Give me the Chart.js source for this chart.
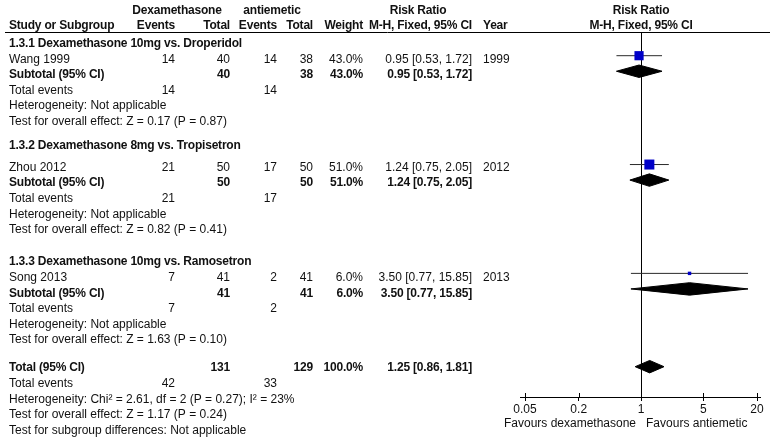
<!DOCTYPE html>
<html>
<head>
<meta charset="utf-8">
<script src="https://cdn.jsdelivr.net/npm/chart.js@4.4.1/dist/chart.umd.min.js"></script>
<style>
html,body{margin:0;padding:0;background:#fff;overflow:hidden}
#wrap{position:relative;width:772px;height:447px}
</style>
</head>
<body>
<div id="wrap"><canvas id="c" width="772" height="447"></canvas></div>
<script>
// ---------------- DATA ----------------
const subgroupTitles = [
  '1.3.1 Dexamethasone 10mg vs. Droperidol',
  '1.3.2 Dexamethasone 8mg vs. Tropisetron',
  '1.3.3 Dexamethasone 10mg vs. Ramosetron'
];
const studyNames = ['Wang 1999', 'Zhou 2012', 'Song 2013'];
const studyYears = ['1999', '2012', '2013'];
const dexEvents = [14, 21, 7];
const dexTotal = [40, 50, 41];
const antiEvents = [14, 17, 2];
const antiTotal = [38, 50, 41];
const weights = [43.0, 51.0, 6.0];
const riskRatio = [0.95, 1.24, 3.50];
const ciLow = [0.53, 0.75, 0.77];
const ciHigh = [1.72, 2.05, 15.85];
const subgroupEffect = ['Z = 0.17 (P = 0.87)', 'Z = 0.82 (P = 0.41)', 'Z = 1.63 (P = 0.10)'];
const totalCounts = [131, 129];          // dexamethasone total, antiemetic total
const totalEvents = [42, 33];            // dexamethasone events, antiemetic events
const totalEstimate = [1.25, 0.86, 1.81]; // RR, low, high
const totalWeight = 100.0;
const totalHeterogeneity = 'Heterogeneity: Chi\u00b2 = 2.61, df = 2 (P = 0.27); I\u00b2 = 23%';
const totalEffect = 'Test for overall effect: Z = 1.17 (P = 0.24)';
const subgroupDiff = 'Test for subgroup differences: Not applicable';
const xTicks = [0.05, 0.2, 1, 5, 20];
const favours = ['Favours dexamethasone', 'Favours antiemetic'];

// ---------------- LAYOUT (row slots) ----------------
const SECTION_ROWS = 7;
const sectionStart = i => i * SECTION_ROWS;
const totalStart = subgroupTitles.length * SECTION_ROWS;
// vertical text nudges (px) per block: [section header, section body]
const sectionTextDy = [[3.5, 3.5], [-3.5, 3], [3.5, 4.5]];
const headerTextDy = 1.5;
const totalTextDy = 1.5;
const DIAMOND_H = 0.4;
const FONT = '"Liberation Sans", Arial, Helvetica, sans-serif';
const TXT = '#111';

const fmt2 = v => v.toFixed(2);
const rrText = (e, l, h) => `${fmt2(e)} [${fmt2(l)}, ${fmt2(h)}]`;
const pct = w => w.toFixed(1) + '%';

// ---------------- DATASETS ----------------
const datasets = [];
studyNames.forEach((n, i) => {
  const r = sectionStart(i) + 1;
  datasets.push({
    type: 'line', data: [{x: ciLow[i], y: r}, {x: ciHigh[i], y: r}],
    borderColor: '#2a2a2a', borderWidth: 1, pointRadius: 0, fill: false, order: 3
  });
});
datasets.push({
  type: 'scatter',
  data: studyNames.map((n, i) => ({x: riskRatio[i], y: sectionStart(i) + 1})),
  pointStyle: 'rect',
  pointRadius: ctx => (1.4 * Math.sqrt(weights[ctx.dataIndex] || 1)) / 1.414,
  backgroundColor: '#0000c8', borderColor: '#0000c8', borderWidth: 0, order: 1
});
function diamond(est, lo, hi, r) {
  return {
    type: 'line',
    data: [{x: lo, y: r}, {x: est, y: r - DIAMOND_H}, {x: hi, y: r}, {x: est, y: r + DIAMOND_H}, {x: lo, y: r}],
    borderColor: '#000', backgroundColor: '#000', borderWidth: 1,
    pointRadius: 0, fill: 'shape', tension: 0, order: 2
  };
}
studyNames.forEach((n, i) => {
  // single-study subgroups: subtotal equals the study estimate
  datasets.push(diamond(riskRatio[i], ciLow[i], ciHigh[i], sectionStart(i) + 2));
});
datasets.push(diamond(totalEstimate[0], totalEstimate[1], totalEstimate[2], totalStart));

// ---------------- TEXT PLUGIN ----------------
const textPlugin = {
  id: 'forestText',
  afterDraw(chart) {
    const {ctx, chartArea, scales: {x, y}} = chart;
    const put = (s, px, r, dy, align, bold) => {
      ctx.font = (bold ? 'bold ' : '') + '12px ' + FONT;
      try { ctx.letterSpacing = bold ? '-0.2px' : '0px'; } catch (e) {}
      ctx.textAlign = align; ctx.textBaseline = 'middle'; ctx.fillStyle = TXT;
      const py = (r === null) ? dy : y.getPixelForValue(r) + dy;
      ctx.fillText(String(s), px, py);
    };
    ctx.save();
    const C = {study: 9, dexE: 175, dexT: 230, antE: 277, antT: 313, w: 363, rr: 472, year: 483};
    const x1 = x.getPixelForValue(1);
    const H = headerTextDy;
    // header
    put('Dexamethasone', 177, -2, H, 'center', true);
    put('antiemetic', 272, -2, H, 'center', true);
    put('Risk Ratio', 418, -2, H, 'center', true);
    put('Risk Ratio', x1, -2, H, 'center', true);
    put('Study or Subgroup', C.study, -1, H, 'left', true);
    put('Events', C.dexE, -1, H, 'right', true);
    put('Total', C.dexT, -1, H, 'right', true);
    put('Events', C.antE, -1, H, 'right', true);
    put('Total', C.antT, -1, H, 'right', true);
    put('Weight', C.w, -1, H, 'right', true);
    put('M-H, Fixed, 95% CI', C.rr, -1, H, 'right', true);
    put('Year', C.year, -1, H, 'left', true);
    put('M-H, Fixed, 95% CI', x1, -1, H, 'center', true);
    // header rule
    ctx.strokeStyle = '#000'; ctx.lineWidth = 1;
    ctx.beginPath(); ctx.moveTo(5, Math.round(chartArea.top) + 0.5); ctx.lineTo(770, Math.round(chartArea.top) + 0.5); ctx.stroke();
    // sections
    subgroupTitles.forEach((t, i) => {
      const s = sectionStart(i);
      const [dh, d] = sectionTextDy[i];
      put(t, C.study, s, dh, 'left', true);
      put(studyNames[i], C.study, s + 1, d, 'left');
      put(dexEvents[i], C.dexE, s + 1, d, 'right');
      put(dexTotal[i], C.dexT, s + 1, d, 'right');
      put(antiEvents[i], C.antE, s + 1, d, 'right');
      put(antiTotal[i], C.antT, s + 1, d, 'right');
      put(pct(weights[i]), C.w, s + 1, d, 'right');
      put(rrText(riskRatio[i], ciLow[i], ciHigh[i]), C.rr, s + 1, d, 'right');
      put(studyYears[i], C.year, s + 1, d, 'left');
      put('Subtotal (95% CI)', C.study, s + 2, d, 'left', true);
      put(dexTotal[i], C.dexT, s + 2, d, 'right', true);
      put(antiTotal[i], C.antT, s + 2, d, 'right', true);
      put(pct(weights[i]), C.w, s + 2, d, 'right', true);
      put(rrText(riskRatio[i], ciLow[i], ciHigh[i]), C.rr, s + 2, d, 'right', true);
      put('Total events', C.study, s + 3, d, 'left');
      put(dexEvents[i], C.dexE, s + 3, d, 'right');
      put(antiEvents[i], C.antE, s + 3, d, 'right');
      put('Heterogeneity: Not applicable', C.study, s + 4, d, 'left');
      put('Test for overall effect: ' + subgroupEffect[i], C.study, s + 5, d, 'left');
    });
    const t = totalStart, T = totalTextDy;
    put('Total (95% CI)', C.study, t, T, 'left', true);
    put(totalCounts[0], C.dexT, t, T, 'right', true);
    put(totalCounts[1], C.antT, t, T, 'right', true);
    put(pct(totalWeight), C.w, t, T, 'right', true);
    put(rrText(totalEstimate[0], totalEstimate[1], totalEstimate[2]), C.rr, t, T, 'right', true);
    put('Total events', C.study, t + 1, T, 'left');
    put(totalEvents[0], C.dexE, t + 1, T, 'right');
    put(totalEvents[1], C.antE, t + 1, T, 'right');
    put(totalHeterogeneity, C.study, t + 2, T, 'left');
    put(totalEffect, C.study, t + 3, T, 'left');
    put(subgroupDiff, C.study, t + 4, T, 'left');
    // tick marks crossing above the axis
    const yb = Math.round(chartArea.bottom);
    ctx.strokeStyle = '#000';
    ctx.beginPath();
    xTicks.forEach(v => { const px = Math.round(x.getPixelForValue(v)) + 0.5; ctx.moveTo(px, yb - 4); ctx.lineTo(px, yb); });
    ctx.stroke();
    // favours labels
    put(favours[0], x1 - 5, null, chartArea.bottom + 27, 'right');
    put(favours[1], x1 + 5, null, chartArea.bottom + 27, 'left');
    ctx.restore();
  }
};

Chart.defaults.font.family = FONT;
Chart.defaults.font.size = 12;
Chart.defaults.color = TXT;

new Chart(document.getElementById('c'), {
  type: 'scatter',
  data: {datasets},
  options: {
    responsive: false, animation: false, devicePixelRatio: 1,
    layout: {padding: {left: 520, right: 12, top: 32, bottom: 29.6}},
    plugins: {legend: {display: false}, tooltip: {enabled: false}},
    scales: {
      x: {
        type: 'logarithmic', min: 0.0439, max: 21.6,
        afterBuildTicks: s => { s.ticks = xTicks.map(v => ({value: v})); },
        ticks: {autoSkip: false, maxRotation: 0, padding: 1, color: TXT, callback: v => String(v)},
        grid: {
          color: c => (c.tick && c.tick.value === 1) ? '#000' : 'rgba(0,0,0,0)',
          tickColor: '#000', tickLength: 4, lineWidth: 1, drawTicks: true
        },
        border: {display: true, color: '#000', width: 1}
      },
      y: {
        type: 'linear', display: false, reverse: true, min: -0.524, max: 22.95,
        grid: {display: false}
      }
    }
  },
  plugins: [textPlugin]
});
</script>
</body>
</html>
